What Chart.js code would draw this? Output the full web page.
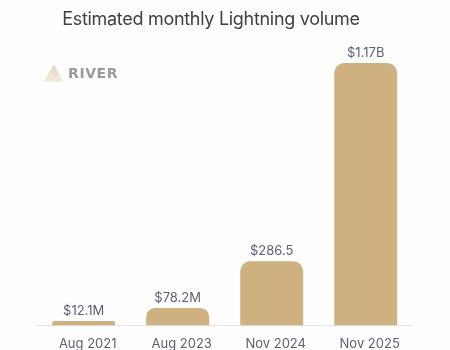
<!DOCTYPE html>
<html>
<head>
<meta charset="utf-8">
<style>
  html, body { margin: 0; padding: 0; background: #fefefe; }
  #wrap { width: 450px; height: 350px; position: relative; }
</style>
<script src="https://cdn.jsdelivr.net/npm/chart.js@4"></script>
</head>
<body>
<div id="wrap"><canvas id="lightningChart"></canvas></div>
<script>
const chartTitle = 'Estimated monthly Lightning volume';
const categories = ['Aug 2021', 'Aug 2023', 'Nov 2024', 'Nov 2025'];
const volumeMillions = [12.1, 78.2, 286.5, 1170];
const barLabels = ['$12.1M', '$78.2M', '$286.5', '$1.17B'];
const fontName = 'Inter, "Noto Sans", sans-serif';

// title, value labels and the River logo
const extrasPlugin = {
    id: 'extras',
    afterDatasetsDraw(chart) {
        const ctx = chart.ctx;
        const meta = chart.getDatasetMeta(0);

        ctx.save();
        ctx.textAlign = 'center';
        ctx.textBaseline = 'alphabetic';
        ctx.fillStyle = '#5d5f75';
        ctx.font = '13px ' + fontName;
        meta.data.forEach((bar, i) => {
            ctx.fillText(barLabels[i], bar.x, bar.y - 6);
        });

        ctx.fillStyle = '#3f4043';
        ctx.letterSpacing = '-0.3px';
        ctx.font = '18px ' + fontName;
        ctx.fillText(chartTitle, 211, 25);
        ctx.letterSpacing = '0px';

        // logo mark: fan of thin lines from the apex
        ctx.strokeStyle = '#ead9bf';
        ctx.lineWidth = 1;
        for (let x = 44.5; x <= 63; x += 2) {
            ctx.beginPath();
            ctx.moveTo(54, 65);
            ctx.lineTo(x, 82);
            ctx.stroke();
        }

        ctx.textAlign = 'left';
        ctx.fillStyle = '#9b9b9b';
        ctx.letterSpacing = '0.6px';
        ctx.font = 'bold 14px "DejaVu Sans", ' + fontName;
        ctx.fillText('RIVER', 68, 78);
        ctx.restore();
    }
};

new Chart(document.getElementById('lightningChart').getContext('2d'), {
    type: 'bar',
    data: {
        labels: categories,
        datasets: [{
            data: volumeMillions,
            backgroundColor: '#cfb17f',
            barPercentage: 0.67,
            categoryPercentage: 1,
            borderRadius: 10,
            borderSkipped: 'bottom',
            minBarLength: 4.5
        }]
    },
    options: {
        responsive: true,
        maintainAspectRatio: false,
        animation: false,
        layout: { padding: { left: 36.7, right: 37.3, top: 63, bottom: 0 } },
        plugins: {
            legend: { display: false },
            tooltip: { enabled: false }
        },
        scales: {
            x: {
                afterFit(scale) { scale.height = 24.5; },
                grid: { display: false, drawTicks: false },
                border: { color: '#e4e4e6', width: 1 },
                ticks: {
                    color: '#5d5f75',
                    padding: 11,
                    labelOffset: 4,
                    maxRotation: 0,
                    font: { family: fontName, size: 13 }
                }
            },
            y: {
                display: false,
                beginAtZero: true,
                max: 1170
            }
        }
    },
    plugins: [extrasPlugin]
});
</script>
</body>
</html>
